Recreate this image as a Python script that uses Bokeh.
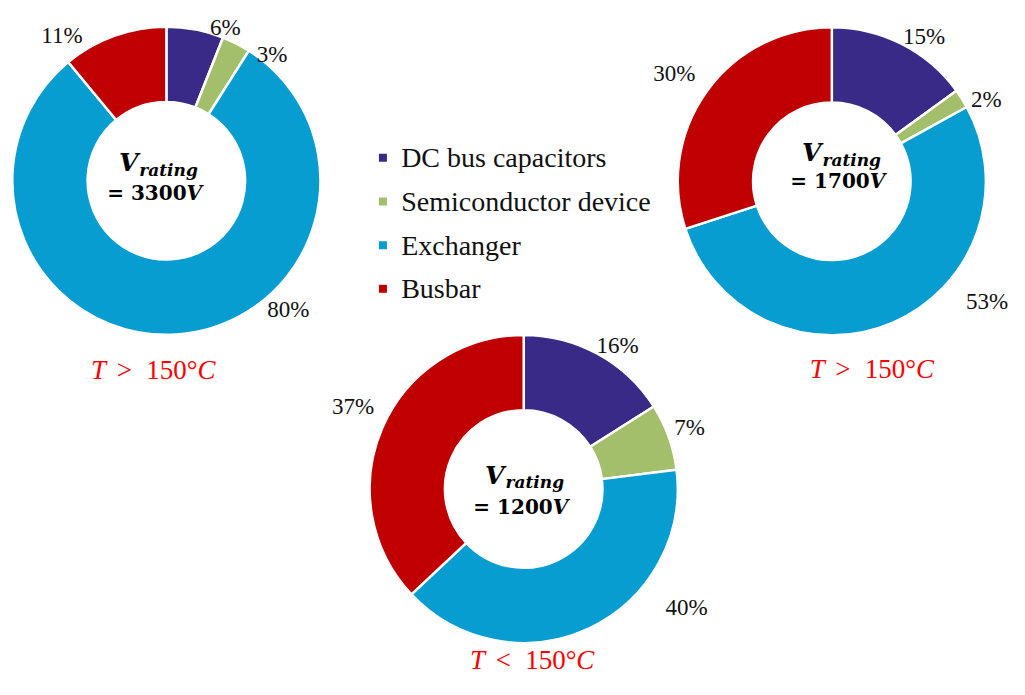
import math
from bokeh.plotting import figure
from bokeh.models import Range1d, ColumnDataSource
from bokeh.core.properties import value
from bokeh.embed import file_html
from bokeh.resources import INLINE

# ---------------- data ----------------
categories = ["DC bus capacitors", "Semiconductor device", "Exchanger", "Busbar"]
share_3300 = [6, 3, 80, 11]
share_1700 = [15, 2, 53, 30]
share_1200 = [16, 7, 40, 37]
voltages = ["3300", "1700", "1200"]
temp_signs = [">", ">", "<"]
temp_value = "150°"

# ---------------- style ----------------
colors = ["#382A86", "#A3BF6B", "#089DD0", "#C00000"]
W, H = 1009, 679
REF_W, REF_H = 1025, 695


def Y(sy):
    # reference-picture y (top-down) -> data y
    return REF_H - sy


donut_centers = [(168.5, 184.5), (844.5, 185.0), (531.5, 500.0)]
r_out, r_in = 156.5, 80.0
# label placement (degrees clockwise from 12 o'clock, radius in px)
label_angle = [[20.9, 39.7, 136.8, 324.6],
               [32.4, 61.9, 127.9, 304.5],
               [33.0, 69.5, 126.2, 296.1]]
label_radius = [[168, 168, 181, 183],
                [175, 178, 200, 194],
                [175, 180, 205, 193]]
text_cx = [159, 853, 531]
mid1 = [166, 156, 486]
mid2 = [197, 185, 518]
temp_x0 = [92, 822, 477]
temp_mid = [378, 377, 675]

p = figure(width=W, height=H, x_range=Range1d(0, REF_W), y_range=Range1d(0, REF_H),
           toolbar_location=None, output_backend="svg", min_border=0,
           x_axis_location=None, y_axis_location=None)
p.grid.visible = False
p.outline_line_color = None
p.background_fill_color = "white"

shares = [share_3300, share_1700, share_1200]
for d, vals in enumerate(shares):
    cx, cy = donut_centers[d]
    total = float(sum(vals))
    starts, ends, lx, ly, txt = [], [], [], [], []
    c = 0.0
    for i, v in enumerate(vals):
        c0 = c / total
        c += v
        c1 = c / total
        starts.append(math.pi / 2 - 2 * math.pi * c1)
        ends.append(math.pi / 2 - 2 * math.pi * c0)
        a = math.radians(label_angle[d][i])
        rr = label_radius[d][i]
        lx.append(cx + rr * math.sin(a))
        ly.append(Y(cy - rr * math.cos(a)))
        txt.append(f"{v}%")
    src = ColumnDataSource(dict(x=[cx] * 4, y=[Y(cy)] * 4, s=starts, e=ends, color=colors, cat=categories))
    p.annular_wedge(x="x", y="y", inner_radius=r_in, outer_radius=r_out, start_angle="s", end_angle="e",
                    direction="anticlock", fill_color="color", line_color="white", line_width=2.5, source=src)
    lsrc = ColumnDataSource(dict(x=lx, y=ly, t=txt))
    p.text(x="x", y="y", text="t", source=lsrc, text_font=value("Liberation Serif"), text_font_size="23px",
           text_align="center", text_baseline="middle", text_color="#111111")

    # centre text
    tx = text_cx[d]
    p.text(x=[tx - 19], y=[Y(mid1[d])], text=["V"], text_font=value("DejaVu Serif"),
           text_font_style="bold italic", text_font_size="25px", text_align="right",
           text_baseline="middle", text_color="black")
    p.text(x=[tx - 18], y=[Y(mid1[d] + 7)], text=["rating"], text_font=value("DejaVu Serif"),
           text_font_style="bold italic", text_font_size="17px", text_align="left",
           text_baseline="middle", text_color="black")
    p.text(x=[tx + 30], y=[Y(mid2[d])], text=["= " + voltages[d]], text_font=value("DejaVu Serif"),
           text_font_style="bold", text_font_size="20px", text_align="right",
           text_baseline="middle", text_color="black")
    p.text(x=[tx + 30], y=[Y(mid2[d])], text=["V"], text_font=value("DejaVu Serif"),
           text_font_style="bold italic", text_font_size="20px", text_align="left",
           text_baseline="middle", text_color="black")

    # temperature note
    x0 = temp_x0[d]
    ym = Y(temp_mid[d])
    for dx, s, style in [(0, "T", "italic"), (26, temp_signs[d], "normal"),
                         (56, temp_value, "normal"), (108, "C", "italic")]:
        p.text(x=[x0 + dx], y=[ym], text=[s], text_font=value("Liberation Serif"), text_font_style=style,
               text_font_size="27px", text_align="left", text_baseline="middle", text_color="#FF0000")

# legend
leg_y = [161, 205.7, 250.4, 295.1]
leg_src = ColumnDataSource(dict(x=[388.5] * 4, y=[Y(v) for v in leg_y], tx=[407] * 4,
                                color=colors, t=categories))
p.scatter(x="x", y="y", marker="square", size=8, fill_color="color", line_color=None, source=leg_src)
p.text(x="tx", y="y", text="t", source=leg_src, text_font=value("Liberation Serif"), text_font_size="28px",
       text_align="left", text_baseline="middle", text_color="#111111")

open("out.html", "w").write(file_html(p, INLINE))
